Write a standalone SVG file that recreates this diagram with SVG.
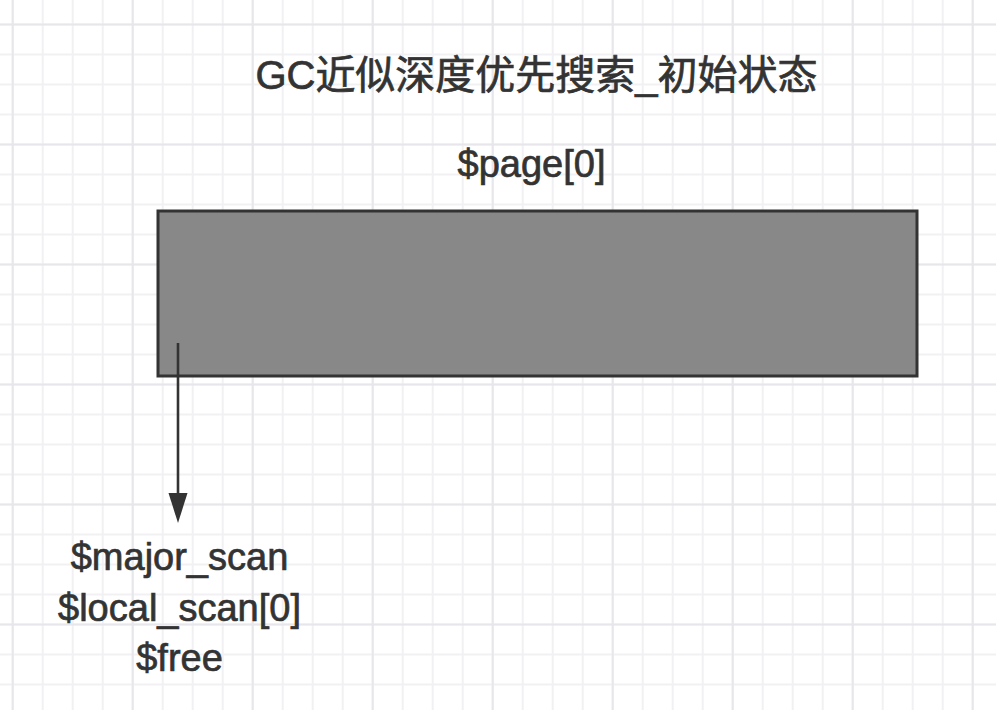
<svg xmlns="http://www.w3.org/2000/svg" width="996" height="710" viewBox="0 0 996 710">
  <style>
    .txt { font-family: "Liberation Sans", Arial, "Noto Sans CJK SC", sans-serif; fill: #333333; stroke: #333333; stroke-width: 0.7; text-anchor: middle; }
    .title { font-size: 40px; }
    .label { font-size: 38px; }
    .block { fill: #888888; stroke: #333333; stroke-width: 3; }
    .conn { stroke: #333333; stroke-width: 2.6; fill: none; }
  </style>
  <defs>
    <pattern id="minor" patternUnits="userSpaceOnUse" x="-2.3" y="9.5" width="30" height="30">
      <path d="M15 0V30M0 15H30" stroke="#f1f1f3" stroke-width="2" fill="none"/>
    </pattern>
    <pattern id="major" patternUnits="userSpaceOnUse" x="-47.3" y="-35.5" width="120" height="120">
      <path d="M60 0V120M0 60H120" stroke="#e7e7eb" stroke-width="2" fill="none"/>
    </pattern>
  </defs>

  <rect width="996" height="710" fill="#ffffff"/>
  <rect width="996" height="710" fill="url(#minor)"/>
  <rect width="996" height="710" fill="url(#major)"/>

  <g id="title">
    <text class="txt title" x="536.5" y="89">GC近似深度优先搜索_初始状态</text>
  </g>

  <g id="page0">
    <text class="txt label" x="531.5" y="177">$page[0]</text>
    <rect class="block" x="158" y="211" width="759" height="165"/>
  </g>

  <g id="pointers">
    <text class="txt label" x="179.5" y="570">$major_scan</text>
    <text class="txt label" x="179.5" y="621">$local_scan[0]</text>
    <text class="txt label" x="179.5" y="671">$free</text>
  </g>

  <g id="connectors">
    <path class="conn" d="M178 343 V495"/>
    <polygon points="168.5,493 187.5,493 178,523" fill="#333333"/>
  </g>
</svg>
